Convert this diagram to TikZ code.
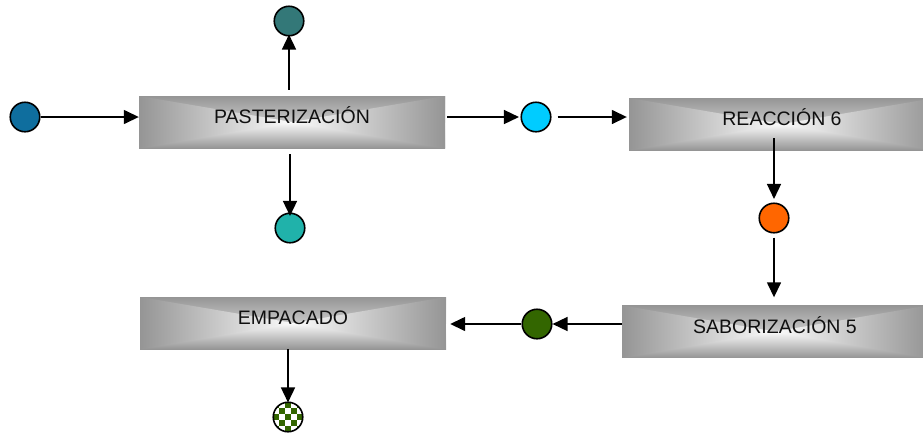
\documentclass[tikz,border=0pt]{standalone}
\usepackage{fontspec}
\setmainfont{Liberation Sans}
\usetikzlibrary{arrows.meta}

\definecolor{edgegray}{HTML}{959595}
\definecolor{midgray}{HTML}{B2B2B2}
\definecolor{glow}{HTML}{FBFBFB}
\definecolor{inblue}{HTML}{0F6E9E}
\definecolor{steamteal}{HTML}{337878}
\definecolor{condteal}{HTML}{20B2AA}
\definecolor{skyblue}{HTML}{00CCFF}
\definecolor{orangec}{HTML}{FF6600}
\definecolor{greenc}{HTML}{336600}
\definecolor{labelink}{HTML}{101010}

\def\pb{path picture bounding box}

\tikzset{
  procbox/.style={rectangle, minimum width=306pt, minimum height=52pt,
    inner sep=0pt, text height=14.5pt, text depth=11.5pt, text=labelink,
    font=\fontsize{19.5}{22}\selectfont,
    path picture={
      % rectangular gradient: top and bottom halves first, then the side triangles
      \shade[top color=edgegray, middle color=midgray, bottom color=glow]
        (\pb.north west) rectangle (\pb.east);
      \shade[top color=glow, middle color=midgray, bottom color=edgegray]
        (\pb.west) rectangle (\pb.south east);
      \begin{scope}
        \clip (\pb.north west) -- (\pb.center) -- (\pb.south west) -- cycle;
        \shade[left color=edgegray, middle color=midgray, right color=glow]
          (\pb.south west) rectangle (\pb.north);
      \end{scope}
      \begin{scope}
        \clip (\pb.north east) -- (\pb.center) -- (\pb.south east) -- cycle;
        \shade[left color=glow, middle color=midgray, right color=edgegray]
          (\pb.south) rectangle (\pb.north east);
      \end{scope}
    }},
  dot/.style={circle, draw=black, line width=1.6pt, minimum size=29.5pt, inner sep=0pt},
  checker/.style={fill=white, path picture={
      \foreach \i in {0,...,4}
        \foreach \j in {0,...,4} {
          \pgfmathtruncatemacro\odd{mod(\i+\j,2)}
          \ifnum\odd=0
            \fill[greenc] ([xshift={\i*6pt}, yshift={\j*6pt}]\pb.south west) rectangle ++(6pt,6pt);
          \fi
        }
    }},
  flow/.style={draw=black, line width=1.5pt, -{Triangle[length=15pt,width=14pt]}}
}

\begin{document}
\begin{tikzpicture}[x=1pt, y=-1pt]
  \useasboundingbox (0,0) rectangle (923,432);

  % process stages
  \node[procbox] (past) at (292,122) {PASTERIZACIÓN};
  \node[procbox] (reac) at (782,124) {REACCIÓN 6};
  \node[procbox] (sab)  at (775,331.5) {SABORIZACIÓN 5};
  \node[procbox] (emp)  at (293,323) {EMPACADO};

  % streams
  \node[dot, fill=inblue]    (in)   at (25,117) {};
  \node[dot, fill=steamteal] (vap)  at (289,21) {};
  \node[dot, fill=condteal]  (cond) at (290,228) {};
  \node[dot, fill=skyblue]   (mid)  at (536,117) {};
  \node[dot, fill=orangec]   (ora)  at (774,218) {};
  \node[dot, fill=greenc]    (grn)  at (537,324) {};
  \node[dot, checker]        (out)  at (288,417) {};

  % connectors
  \draw[flow] (in.east) -- (in -| past.west);
  \draw[flow, shorten <=6pt, shorten >=-2pt] (vap |- past.north) -- (vap.south);
  \draw[flow, shorten <=6pt, shorten >=-3.5pt] (cond |- past.south) -- (cond.north);
  \draw[flow, shorten <=2pt, shorten >=1.5pt] (mid -| past.east) -- (mid.west);
  \draw[flow, shorten <=6pt, shorten >=2pt] (mid.east) -- (mid -| reac.west);
  \draw[flow, shorten <=-12pt, shorten >=3.5pt] (ora |- reac.south) -- (ora.north);
  \draw[flow, shorten <=4pt, shorten >=8pt] (ora.south) -- (ora |- sab.north);
  \draw[flow] (grn -| sab.west) -- (grn.east);
  \draw[flow, shorten >=4pt] (grn.west) -- (grn -| emp.east);
  \draw[flow, shorten >=-1pt] (out |- emp.south) -- (out.north);
\end{tikzpicture}
\end{document}
